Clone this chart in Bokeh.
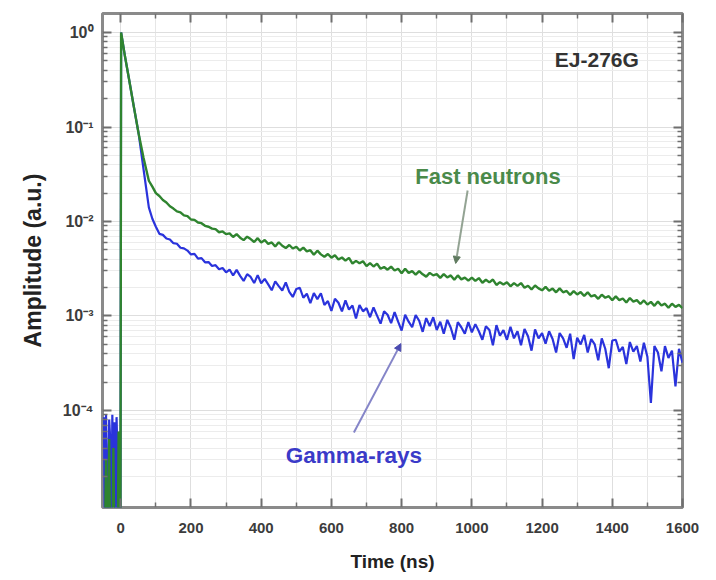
from bokeh.plotting import figure
from bokeh.models import (FixedTicker, LinearAxis, LogAxis, Range1d, Label, Arrow,
                          NormalHead, CustomJSTickFormatter)
from bokeh.embed import file_html
from bokeh.resources import INLINE

# Sampling times (ns): pre-trigger baseline, rise and fast decay, then the 10 ns tail grid
pre_trigger_ns = [-48, -45, -42, -39, -36, -33, -30, -27, -24, -21, -18, -15, -12, -9, -6, -3]
pulse_head_ns = [-1, 1, 12, 23, 37, 51, 65, 80, 90]
tail_ns = list(range(100, 1601, 10))
time_ns = pre_trigger_ns + pulse_head_ns + tail_ns

# Averaged pulse amplitudes, in units of 1e-5 a.u.
neutron_pre = [0.3, 0.4, 3, 0.3, 0.3, 5, 0.3, 0.4, 0.3, 4, 0.3, 0.3, 0.5, 0.3, 6, 0.3]
gamma_pre = [8.5, 0.4, 9, 2.5, 0.3, 8, 5, 0.4, 9, 1.5, 7.5, 0.3, 8.5, 3, 0.5, 6]

neutron_head = [0.2, 100000, 56000, 33000, 16600, 8500, 4700, 2700, 2340]
gamma_head = [0.2, 100000, 56000, 33000, 16600, 8500, 3550, 1410, 1070]

neutron_tail = [
    1995, 1860, 1690, 1590, 1450, 1370, 1280, 1250, 1160, 1140,
    1050, 1040, 975, 960, 900, 880, 840, 830, 770, 785, 735,
    750, 685, 736, 674, 635, 690, 651, 607, 666, 598,
    637, 579, 600, 543, 603, 554, 523, 564, 518, 541,
    493, 529, 483, 497, 445, 491, 449, 423, 453, 414,
    440, 396, 416, 385, 412, 359, 383, 361, 380, 337,
    363, 334, 358, 316, 330, 309, 333, 303, 316, 284,
    317, 286, 298, 274, 299, 276, 261, 286, 269, 277,
    253, 277, 256, 269, 242, 269, 244, 255, 237, 255,
    235, 252, 225, 242, 227, 243, 213, 228, 215, 228,
    206, 223, 208, 223, 199, 209, 191, 210, 196, 187,
    203, 185, 195, 178, 196, 178, 184, 167, 183, 169,
    179, 163, 178, 161, 166, 152, 168, 156, 162, 147,
    161, 147, 153, 139, 155, 142, 147, 134, 146, 132,
    141, 128, 142, 129, 135, 122, 135, 125, 131, 121,
]

gamma_tail = [
    880, 740, 722, 660, 645, 590, 582, 528, 520, 492,
    448, 455, 405, 410, 370, 372, 338, 345, 312, 322, 290,
    310, 268, 308, 266, 235, 277, 259, 223, 271, 222,
    247, 216, 187, 233, 207, 186, 227, 180, 159, 193,
    199, 156, 172, 137, 175, 151, 174, 131, 144, 113,
    152, 138, 112, 146, 117, 129, 94, 131, 112, 121,
    97, 123, 101, 83, 112, 103, 84, 110, 87, 70,
    103, 87, 76, 102, 89, 68, 95, 78, 97, 71,
    87, 65, 91, 75, 56, 86, 76, 65, 86, 67,
    82, 69, 56, 78, 71, 49, 80, 62, 71, 56,
    77, 58, 69, 49, 73, 61, 43, 72, 58, 66,
    51, 69, 57, 41, 66, 58, 46, 65, 35, 59,
    50, 63, 41, 57, 50, 34, 58, 45, 28, 55,
    56, 42, 47, 31, 53, 42, 48, 33, 52, 37,
    12, 48, 41, 26, 48, 36, 43, 18, 45, 32,
]

UNIT = 1e-5
neutron_amp = [v * UNIT for v in neutron_pre + neutron_head + neutron_tail]
gamma_amp = [v * UNIT for v in gamma_pre + gamma_head + gamma_tail]

x_major = [0, 200, 400, 600, 800, 1000, 1200, 1400, 1600]
x_minor = [100, 300, 500, 700, 900, 1100, 1300, 1500]
y_major = [1e-4, 1e-3, 1e-2, 1e-1, 1.0]
y_minor = [m * 10.0 ** k for k in range(-6, 1) for m in range(2, 10)]

FONT = "Liberation Sans"
TICK_COLOR = "#6f6f6f"

p = figure(width=716, height=580,
           x_range=Range1d(-52, 1600), y_range=Range1d(9.4e-6, 1.59),
           y_axis_type="log", output_backend="svg", toolbar_location=None,
           min_border_left=102, min_border_right=34,
           min_border_top=13, min_border_bottom=73)

p.background_fill_color = "white"
p.border_fill_color = "white"
p.outline_line_color = "#8a8a8a"
p.outline_line_width = 3

x_ticker = FixedTicker(ticks=x_major, minor_ticks=x_minor)
y_ticker = FixedTicker(ticks=y_major, minor_ticks=y_minor)

bottom_axis = p.xaxis[0]
left_axis = p.yaxis[0]
bottom_axis.ticker = x_ticker
left_axis.ticker = y_ticker

left_axis.formatter = CustomJSTickFormatter(code="""
const sup = {'-': '\\u207b', '0': '\\u2070', '1': '\\u00b9', '2': '\\u00b2',
             '3': '\\u00b3', '4': '\\u2074', '5': '\\u2075', '6': '\\u2076'};
const e = Math.round(Math.log10(tick));
return '10' + String(e).split('').map(c => sup[c]).join('');
""")

# Mirror axes carry only the inward ticks on the top and right edges
blank = CustomJSTickFormatter(code="return '';")
top_axis = LinearAxis(ticker=x_ticker, formatter=blank, major_label_standoff=0)
right_axis = LogAxis(ticker=y_ticker, formatter=blank, major_label_standoff=0)
p.add_layout(top_axis, "above")
p.add_layout(right_axis, "right")

for ax in (bottom_axis, left_axis, top_axis, right_axis):
    ax.axis_line_color = None
    ax.major_tick_in = 9
    ax.major_tick_out = 0
    ax.minor_tick_in = 5
    ax.minor_tick_out = 0
    ax.major_tick_line_color = TICK_COLOR
    ax.major_tick_line_width = 2
    ax.minor_tick_line_color = TICK_COLOR
    ax.minor_tick_line_width = 1.5
    ax.major_label_text_font = FONT
    ax.major_label_text_font_style = "bold"
    ax.major_label_text_font_size = "15px"
    ax.major_label_text_color = "#3c3c3c"
    ax.axis_label_text_font = FONT
    ax.axis_label_text_font_style = "bold"
    ax.axis_label_text_font_size = "19px"
    ax.axis_label_text_color = "#222222"

bottom_axis.axis_label = "Time (ns)"
bottom_axis.major_label_standoff = 15
bottom_axis.axis_label_standoff = 15
left_axis.axis_label = "Amplitude (a.u.)"
left_axis.axis_label_text_font_size = "23px"
left_axis.major_label_text_font_size = "16px"
left_axis.major_label_standoff = 9
left_axis.axis_label_standoff = 14

p.xgrid.grid_line_color = "#dedede"
p.xgrid.minor_grid_line_color = "#e6e6e6"
p.ygrid.grid_line_color = "#dedede"
p.ygrid.minor_grid_line_color = "#ececec"

# Traces: gamma-ray pulse first, fast-neutron pulse on top
p.line(time_ns, gamma_amp, line_color="#2a33dc", line_width=2.2)
p.line(time_ns, neutron_amp, line_color="#2f842f", line_width=2.4)

p.add_layout(Label(x=1356, y=0.52, text="EJ-276G", text_align="center",
                   text_baseline="middle", text_font=FONT, text_font_style="bold",
                   text_font_size="21px", text_color="#333333"))
p.add_layout(Label(x=1046, y=0.0299, text="Fast neutrons", text_align="center",
                   text_baseline="middle", text_font=FONT, text_font_style="bold",
                   text_font_size="22px", text_color="#4a8a4a"))
p.add_layout(Label(x=664, y=3.34e-5, text="Gamma-rays", text_align="center",
                   text_baseline="middle", text_font=FONT, text_font_style="bold",
                   text_font_size="22.5px", text_color="#3a3ac8"))

p.add_layout(Arrow(end=NormalHead(size=7, fill_color="#5f7a5f", line_color="#5f7a5f"),
                   x_start=988, y_start=0.0213, x_end=954, y_end=0.0036,
                   line_color="#93a393", line_width=2))
p.add_layout(Arrow(end=NormalHead(size=7, fill_color="#4a4ab0", line_color="#4a4ab0"),
                   x_start=664, y_start=5.85e-5, x_end=798, y_end=5.1e-4,
                   line_color="#8585c8", line_width=2))

open("out.html", "w").write(file_html(p, INLINE))
